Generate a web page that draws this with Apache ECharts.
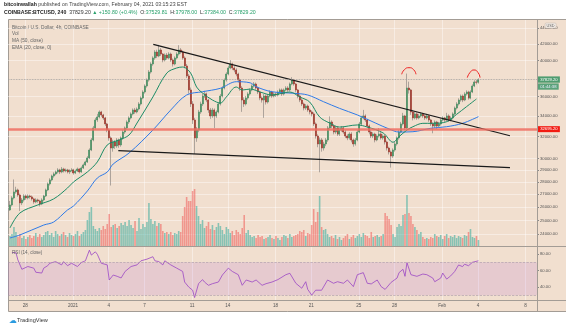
<!DOCTYPE html>
<html><head><meta charset="utf-8">
<script src="https://cdn.jsdelivr.net/npm/echarts@6/dist/echarts.min.js"></script>
<style>html,body{margin:0;padding:0;background:#fff}#c{width:566px;height:327px}</style>
</head><body><div id="c"></div>
<script>
// ---------- data ----------
const firstCandle = '2020-12-26T17:00:00Z';   // 4h candles
const candleHours = 4;
const firstOpen = 25780;
const closes = [
26160,26710,27180,27340,26940,26320,26550,26860,26710,26860,
26790,26630,26400,26550,26470,26240,26550,26860,27340,27830,
28160,28490,28660,28830,29000,28830,29080,28910,29000,28830,
28950,29000,28740,28910,29080,28830,29170,29430,29690,30040,
30750,31670,32810,33590,33890,34390,34090,33790,33200,32610,
31860,30930,31480,31120,31670,31210,31860,32420,32810,33390,
33790,34190,34590,34390,34690,35210,35830,36470,37120,37780,
38680,39600,40310,41020,40540,41270,40780,40070,40660,40310,
40780,40070,39600,40310,40780,41270,41020,40310,39370,38230,
36690,35210,33590,31860,32610,34390,35210,36040,36260,35620,
34590,33990,34590,33990,34390,35210,36040,36900,37780,38450,
39140,39600,39140,38910,38450,37780,36900,35620,35210,35830,
36260,36690,37120,37340,36900,36470,35830,35620,36040,35410,
36040,36470,36040,36260,36150,36470,36690,36260,36690,36900,
36690,37340,37780,37340,36690,36040,35620,35210,34790,35000,
34590,34390,34190,33200,32040,31300,31670,30930,31300,31670,
32810,33390,33000,32420,32810,32230,32610,32810,32420,32040,
31860,32230,31670,31300,31670,32420,33200,33790,33990,33590,
33000,32420,32040,32230,31670,32040,32230,31860,32040,31480,
30930,30570,30210,30750,31300,31860,32420,33200,33990,32810,
36900,36690,34390,33790,34190,33790,33990,34190,33990,33790,
33990,33590,33200,33000,33390,33000,33200,33590,33790,33590,
33990,33590,33790,34190,34790,35210,35620,36040,35620,36260,
36470,35830,36470,37120,37560,37529.81,37829.2];
const highs = [
26470,26850,28200,27600,27450,27050,26700,27000,26980,26990,
26960,26900,26720,26680,26650,26560,26680,26950,27450,27950,
28300,28600,28800,28950,29150,29100,29250,29180,29120,29090,
29050,29150,29100,29020,29200,29150,29300,29550,29800,30200,
30900,31850,33000,33800,34200,34550,34500,34200,33900,33300,
32750,32000,31700,31650,31850,31800,32000,32600,32950,33550,
33950,34350,34750,34800,34850,35400,36000,36650,37300,37950,
38900,39800,40500,41250,41300,41900,41500,40900,40850,40900,
41000,40950,40250,40500,41000,41850,41500,41200,40500,39600,
38450,36950,35500,33800,32900,34600,35450,36300,36600,36400,
35750,34800,34800,34750,34550,35400,36250,37100,37950,38650,
39400,40050,39750,39350,39100,38600,37950,37100,35900,36050,
36450,36850,37300,37550,37500,37050,36600,36000,36250,36200,
36250,36650,36600,36450,36400,36650,36850,36850,36850,37100,
37100,37500,38100,37900,37450,36800,36200,35800,35350,35200,
35150,34750,34550,34350,33350,32200,31900,31850,31500,31850,
33000,33950,33550,33150,33000,32950,32800,33000,32950,32600,
32200,32400,32400,31800,31850,32600,33400,34000,34600,34150,
33700,33150,32600,32400,32350,32200,32800,32400,32200,32150,
31600,31050,30700,30900,31500,32000,32600,33400,34300,34100,
38500,37600,36800,34600,34400,34350,34200,34350,34300,34150,
34200,34100,33700,33350,33550,33500,33400,33750,33950,33900,
34300,34150,33950,34350,34950,35400,35800,36200,36200,36450,
36650,36600,36650,37300,37750,37800,37978];
const lows = [
25710,26050,26600,27050,26800,25700,26150,26420,26560,26590,
26650,26500,26250,26300,26330,26050,26150,26450,26780,27250,
27700,28050,28350,28550,28700,28650,28720,28780,28800,28700,
28650,28850,28600,28650,28820,28700,28750,29080,29350,29600,
29950,30650,31550,32650,33400,33750,33900,33600,33000,32400,
31600,27700,30600,30850,30950,30950,31050,31700,32250,32650,
33200,33650,34050,34200,34250,34550,35050,35700,36300,36950,
37600,38500,39400,40100,40300,40400,40550,39800,39900,40100,
40150,39850,39300,39450,40150,40600,40800,40100,39100,38000,
36300,34900,33200,30400,31500,32400,34200,35000,35850,35400,
34300,33700,33800,32800,33800,34250,35050,35900,36750,37600,
38300,39000,38900,38650,38200,37500,36600,34400,34900,35050,
35650,36100,36550,36950,36700,36250,35600,35350,33800,35150,
35250,35900,35850,35900,35950,36000,36300,36050,36100,36550,
36500,36550,37200,37150,36450,35800,35400,35000,34550,34600,
34400,34150,33950,33000,31800,31000,28800,30600,30700,31100,
31500,32650,32800,32200,32250,32050,32050,32450,32250,31850,
31650,31700,31450,31050,31150,31550,32300,33050,33650,33400,
32800,32200,31850,31850,31450,31550,31900,31700,31700,31250,
30700,30350,29200,30050,30600,31150,31700,32300,33050,32600,
32700,36300,34100,33550,33650,33600,33650,33850,33800,33600,
33650,33400,33000,32300,32800,32700,32850,33050,33450,33400,
33450,33400,33450,33650,34050,34650,35050,35450,35400,35500,
36100,35650,35700,36350,37000,37300,37384];
const volumes = [
10,12,19,14,9,12,8,10,7,9,
11,8,10,13,9,12,9,11,14,15,
11,13,9,15,12,10,12,14,11,9,
13,11,10,12,15,10,12,14,16,26,
34,39,20,17,15,18,16,20,17,22,
32,19,21,22,18,20,23,21,24,20,
26,21,18,25,15,28,17,22,19,24,
43,27,22,25,20,23,22,15,13,14,
12,14,11,13,12,15,14,30,39,49,
45,45,55,57,40,30,22,26,18,20,
24,17,21,16,19,23,20,16,12,19,
17,13,15,11,16,14,12,18,31,13,
16,11,9,10,8,11,9,10,7,8,
9,11,8,7,10,8,6,9,11,10,
8,12,9,10,11,12,15,14,16,10,
13,12,21,37,24,34,50,19,16,17,
12,9,10,8,11,7,9,6,8,10,
12,7,9,11,8,10,12,9,13,11,
10,8,14,9,10,11,9,10,12,33,
30,27,21,12,9,19,22,20,31,32,
51,33,30,22,19,16,12,14,9,7,
8,7,9,8,12,10,9,11,7,10,
12,8,10,9,11,8,10,9,8,11,
10,14,17,9,8,10,6];
// indicator readings: [candle index, value]
const ma50Points = [[0,23740],[5,23950],[17,24660],[22,24880],[29,25780],[32,26080],[39,27260],[44,28320],[49,28820],[52,29510],[60,30480],[72,32610],[81,34590],[89,36150],[97,36500],[106,36870],[114,37590],[121,37470],[124,37040],[132,36500],[143,36330],[150,36150],[158,35440],[166,34760],[175,34090],[184,33300],[191,32710],[196,32420],[203,32450],[212,32780],[220,32930],[228,33260],[236,33920]];
const ema20Points = [[0,24450],[5,25550],[14,26160],[22,26630],[29,27500],[32,27990],[39,28830],[44,29690],[49,31210],[55,31670],[60,32140],[64,33290],[72,35940],[79,38560],[84,39140],[87,39250],[91,38560],[94,37010],[97,36360],[102,35620],[106,35310],[109,35940],[114,37010],[117,36680],[121,36790],[126,36470],[132,36150],[141,36470],[146,35940],[151,35410],[156,33890],[161,33290],[166,32900],[175,33100],[180,32900],[188,32330],[193,31460],[196,31980],[200,32610],[203,32930],[208,33260],[213,33260],[220,33420],[225,34150],[230,34930],[235,35730]];
const rsiPoints = [[1,82],[3,82],[4,73],[6,61.6],[7,64],[9,65],[12,63],[13,58],[16,57],[17,63],[19,66],[20,69],[23,71],[26,67],[27,71],[29,66],[31,69],[34,65],[36,70],[38,72],[40,85],[41,79],[43,83],[44,80],[46,69],[49,67],[50,48.5],[52,54.6],[54,53],[56,51],[58,59],[61,65],[64,67],[66,72],[69,74],[72,77],[73,72],[75,71],[77,67],[78,72],[81,67],[84,63],[87,59],[88,46],[90,40],[92,36],[93,27],[95,44],[97,49],[98,46],[100,42],[102,44],[105,46],[107,54.6],[110,63],[112,59],[115,55],[117,42],[119,48.5],[122,46],[124,48.5],[127,42],[129,44],[132,46],[135,49],[136,48],[139,55],[141,56.7],[144,44.5],[145,42.5],[147,38.4],[149,46.4],[150,37],[152,30],[154,36],[155,34],[157,36],[160,48.5],[163,44.5],[165,46.4],[168,44.5],[170,48.5],[173,40.4],[175,55],[176,53],[178,57.5],[180,44.5],[182,43.7],[185,48.5],[187,40.4],[189,37],[190,38.4],[192,45.6],[195,50.9],[196,57.5],[198,61.6],[199,53],[200,69.7],[201,69],[202,55],[203,57],[205,53],[208,55.8],[210,55],[213,50.9],[214,46.4],[217,50.9],[218,57],[220,49.6],[222,53.5],[224,58.8],[226,66.9],[228,64.9],[229,67.8],[231,66],[233,70.2],[234,71],[236,72]];
// drawings: [time, price]
const upperTrend = [['2021-01-07T17:48:00Z',41960],['2021-02-06T16:34:00Z',32070]];
const lowerTrend = [['2021-01-04T19:18:00Z',30690],['2021-02-06T16:34:00Z',29200]];
const arc1 = [['2021-01-28T14:23:00Z',38420],['2021-01-28T20:01:00Z',38960],['2021-01-29T05:05:00Z',39170],['2021-01-29T14:10:00Z',38960],['2021-01-29T19:12:00Z',38420]];
const arc2 = [['2021-02-03T02:34:00Z',38040],['2021-02-03T08:00:00Z',38620],['2021-02-03T16:03:00Z',38910],['2021-02-04T00:07:00Z',38620],['2021-02-04T04:09:00Z',38040]];
const supportLevel = 32695.2;
const lastPrice = 37829.2;
const countdown = '01:44:38';
// axes
const viewStart = '2020-12-26T13:01:00Z', viewEnd = '2021-02-08T23:01:00Z';
const priceMin = 23186, priceMax = 45072;
const dayTicks = ['2020-12-28','2021-01-01','2021-01-04','2021-01-07','2021-01-11','2021-01-14','2021-01-18','2021-01-21','2021-01-25','2021-01-28','2021-02-01','2021-02-04','2021-02-08'];
const priceTicks = [24000,25000,26000,27000,28000,29000,30000,32000,34000,36000,40000,42000,44000];
const rsiTicks = [40,60,80];
const rsiMin = 23.4, rsiMax = 88.9;

// ---------- build ----------
const FONT = '"Liberation Sans", Arial, sans-serif';
const BG = '#f1dfcf';
const UP = '#4a9164', DOWN = '#a13c30', WICK = '#8f8984';
const VOL_UP = 'rgba(38,166,154,0.52)', VOL_DOWN = 'rgba(239,83,80,0.52)';
const GRIDLINE = 'rgba(255,255,255,0.42)';
const FRAME = '#a39c95';

const T0 = Date.parse(firstCandle);
const STEP = candleHours * 3600 * 1000;
const tOf = i => T0 + i * STEP;
const opens = closes.map((c, i) => i === 0 ? firstOpen : closes[i - 1]);
const candleData = closes.map((c, i) => [tOf(i), opens[i], c, lows[i], highs[i]]);
// bodies only (low/high clamped to the body so the coloured series draws no wick)
const bodyData = closes.map((c, i) => [tOf(i), opens[i], c, Math.min(opens[i], c), Math.max(opens[i], c)]);
const volData = volumes.map((v, i) => ({value: [tOf(i), v], itemStyle: {color: closes[i] >= opens[i] ? VOL_UP : VOL_DOWN}}));
const tickTimes = dayTicks.map(d => Date.parse(d));
const xMin = Date.parse(viewStart), xMax = Date.parse(viewEnd);
const toT = pts => pts.map(([d, p]) => [Date.parse(d), p]);
const idxPts = pts => pts.map(([i, v]) => [tOf(i), v]);

function fmtDay(v) {
  const d = new Date(v);
  if (d.getUTCMonth() === 0 && d.getUTCDate() === 1) return String(d.getUTCFullYear());
  if (d.getUTCDate() === 1) return ['Jan','Feb','Mar'][d.getUTCMonth()];
  return String(d.getUTCDate());
}
function xAx(gi, labels, split) {
  return {type: 'value', gridIndex: gi, min: xMin, max: xMax, scale: true,
    axisLine: {show: false}, axisTick: {show: false, customValues: tickTimes},
    axisLabel: {show: labels, customValues: tickTimes, formatter: fmtDay, fontSize: 4.6, color: '#555', margin: 3, fontFamily: FONT},
    splitLine: {show: split, lineStyle: {color: GRIDLINE, width: 1}}};
}
const lbl = {fontSize: 4.2, color: '#555', margin: 3, fontFamily: FONT};

const option = {
  animation: false,
  backgroundColor: '#ffffff',
  title: [
    {left: 4, top: 2, padding: 0, text: '{b|bitcoinwallah} published on TradingView.com, February 04, 2021 03:15:23 EST',
     textStyle: {fontSize: 5.2, color: '#444', fontWeight: 'normal', fontFamily: FONT, rich: {b: {fontSize: 5.2, fontWeight: 'bold', color: '#222', fontFamily: FONT}}}},
    {left: 4, top: 10.5, padding: 0, text: '{b|COINBASE:BTCUSD, 240}  37829.20 {g|▲ +150.80 (+0.4%)}  O:{g|37529.81}  H:{g|37978.00}  L:{g|37384.00}  C:{g|37829.20}',
     textStyle: {fontSize: 5.2, color: '#333', fontWeight: 'normal', fontFamily: FONT, rich: {b: {fontSize: 5.2, fontWeight: 'bold', color: '#222', fontFamily: FONT}, g: {fontSize: 5.2, color: '#26a06a', fontFamily: FONT}}}},
    {left: 12, top: 24, padding: 0, text: 'Bitcoin / U.S. Dollar, 4h, COINBASE\nVol\nMA (50, close)\nEMA (20, close, 0)',
     textStyle: {fontSize: 4.8, lineHeight: 6.7, color: '#666', fontWeight: 'normal', fontFamily: FONT}},
    {left: 12, top: 250.5, padding: 0, text: 'RSI (14, close)', textStyle: {fontSize: 4.6, color: '#666', fontWeight: 'normal', fontFamily: FONT}},
    {left: 545, top: 23, padding: [0.6, 1.6], text: 'USD', backgroundColor: '#f8f1ea', borderColor: '#b8aea4', borderWidth: 0.5, borderRadius: 1,
     textStyle: {fontSize: 3.8, color: '#555', fontWeight: 'normal', fontFamily: FONT}},
    {left: 9, top: 316.5, padding: 0, text: '{i|☁}TradingView', textStyle: {fontSize: 5.6, color: '#333', fontWeight: 'normal', fontFamily: FONT, rich: {i: {fontSize: 8, color: '#2a9be0', fontFamily: '"DejaVu Sans", sans-serif'}}}}
  ],
  graphic: [
    {type: 'rect', z: -10, silent: true, shape: {x: 8.5, y: 19.5, width: 570, height: 292}, style: {fill: BG, stroke: FRAME, lineWidth: 1}},
    {type: 'line', z: 50, silent: true, shape: {x1: 8, y1: 246.5, x2: 566, y2: 246.5}, style: {stroke: FRAME, lineWidth: 1}},
    {type: 'line', z: 50, silent: true, shape: {x1: 8, y1: 300.5, x2: 566, y2: 300.5}, style: {stroke: FRAME, lineWidth: 1}},
    {type: 'line', z: 50, silent: true, shape: {x1: 537.5, y1: 19, x2: 537.5, y2: 312}, style: {stroke: FRAME, lineWidth: 1}}
  ],
  grid: [
    {left: 8, top: 20, width: 529, height: 226, outerBoundsMode: 'none'},
    {left: 8, top: 186, width: 529, height: 60, outerBoundsMode: 'none'},
    {left: 8, top: 247, width: 529, height: 53.5, outerBoundsMode: 'none'}
  ],
  xAxis: [xAx(0, false, true), xAx(1, false, false), xAx(2, true, true)],
  yAxis: [
    {type: 'log', logBase: 10, gridIndex: 0, min: priceMin, max: priceMax, position: 'right',
     axisLine: {show: false}, axisTick: {show: true, customValues: priceTicks, length: 2, lineStyle: {color: '#888'}},
     axisLabel: Object.assign({customValues: priceTicks, formatter: v => Number(v).toFixed(2)}, lbl),
     splitLine: {show: true, lineStyle: {color: GRIDLINE, width: 1}}},
    {type: 'value', gridIndex: 1, min: 0, max: 60, show: false},
    {type: 'value', gridIndex: 2, min: rsiMin, max: rsiMax, position: 'right',
     axisLine: {show: false}, axisTick: {show: true, customValues: rsiTicks, length: 2, lineStyle: {color: '#888'}},
     axisLabel: Object.assign({customValues: rsiTicks, formatter: v => Number(v).toFixed(2)}, lbl),
     splitLine: {show: false}}
  ],
  series: [
    {type: 'bar', name: 'Vol', xAxisIndex: 1, yAxisIndex: 1, data: volData, barWidth: 1.6, z: 1, silent: true},
    {type: 'candlestick', name: 'wicks', xAxisIndex: 0, yAxisIndex: 0, data: candleData, encode: {x: 0, y: [1, 2, 3, 4]},
     barWidth: 0.3, z: 2, silent: true,
     itemStyle: {color: WICK, color0: WICK, borderColor: WICK, borderColor0: WICK, borderWidth: 0.7}},
    {type: 'candlestick', name: 'BTCUSD', xAxisIndex: 0, yAxisIndex: 0, data: bodyData, encode: {x: 0, y: [1, 2, 3, 4]},
     barWidth: 1.5, z: 3, silent: true,
     itemStyle: {color: UP, color0: DOWN, borderColor: UP, borderColor0: DOWN, borderWidth: 0.7},
     markLine: {silent: true, symbol: 'none', z: 6,
       data: [
         {yAxis: supportLevel, lineStyle: {color: 'rgba(238,110,98,0.85)', width: 2.6, type: 'solid'},
          label: {show: true, position: 'end', distance: 1, formatter: supportLevel.toFixed(2), backgroundColor: '#f21b12', color: '#fff', fontSize: 4.2, padding: [1.2, 2.2, 0.8, 2.2], fontFamily: FONT}},
         {yAxis: lastPrice, lineStyle: {color: '#9a9a9a', width: 0.8, type: 'dotted'},
          label: {show: true, position: 'end', distance: 1, offset: [0, 3.5],
            formatter: '{a|' + lastPrice.toFixed(2) + '}\n{b|' + countdown + '}',
            rich: {a: {backgroundColor: '#4f9c70', color: '#fff', fontSize: 4.2, padding: [1.3, 2.2, 1, 2.2], fontFamily: FONT, lineHeight: 7},
                   b: {backgroundColor: '#5aa27a', color: '#eef', fontSize: 4.2, padding: [1.3, 2.2, 1, 2.2], fontFamily: FONT, lineHeight: 7}}}}
       ]}},
    {type: 'line', name: 'MA (50, close)', xAxisIndex: 0, yAxisIndex: 0, data: idxPts(ma50Points), smooth: 0.35, showSymbol: false, symbol: 'none', z: 4, silent: true,
     lineStyle: {color: '#2f7be8', width: 1}},
    {type: 'line', name: 'EMA (20, close, 0)', xAxisIndex: 0, yAxisIndex: 0, data: idxPts(ema20Points), smooth: 0.35, showSymbol: false, symbol: 'none', z: 4, silent: true,
     lineStyle: {color: '#1c8c66', width: 1}},
    {type: 'line', name: 'upper', xAxisIndex: 0, yAxisIndex: 0, data: toT(upperTrend), showSymbol: false, symbol: 'none', z: 5, silent: true,
     lineStyle: {color: '#1a1a1a', width: 1.2}},
    {type: 'line', name: 'lower', xAxisIndex: 0, yAxisIndex: 0, data: toT(lowerTrend), showSymbol: false, symbol: 'none', z: 5, silent: true,
     lineStyle: {color: '#1a1a1a', width: 1.2}},
    {type: 'line', name: 'arc1', xAxisIndex: 0, yAxisIndex: 0, data: toT(arc1), smooth: 0.6, showSymbol: false, symbol: 'none', z: 5, silent: true,
     lineStyle: {color: '#ee2222', width: 1}},
    {type: 'line', name: 'arc2', xAxisIndex: 0, yAxisIndex: 0, data: toT(arc2), smooth: 0.6, showSymbol: false, symbol: 'none', z: 5, silent: true,
     lineStyle: {color: '#ee2222', width: 1}},
    {type: 'line', name: 'RSI (14, close)', xAxisIndex: 2, yAxisIndex: 2, data: idxPts(rsiPoints), showSymbol: false, symbol: 'none', z: 4, silent: true,
     lineStyle: {color: '#9b46c4', width: 0.8},
     markArea: {silent: true, itemStyle: {color: 'rgba(160,80,215,0.14)'}, data: [[{yAxis: 30}, {yAxis: 70}]]},
     markLine: {silent: true, symbol: 'none', label: {show: false},
       lineStyle: {color: '#a895a8', width: 0.6, type: 'dashed'}, data: [{yAxis: 30}, {yAxis: 70}]}}
  ]
};
const chart = echarts.init(document.getElementById('c'), null, {renderer: 'canvas'});
chart.setOption(option);
</script>
</body></html>
